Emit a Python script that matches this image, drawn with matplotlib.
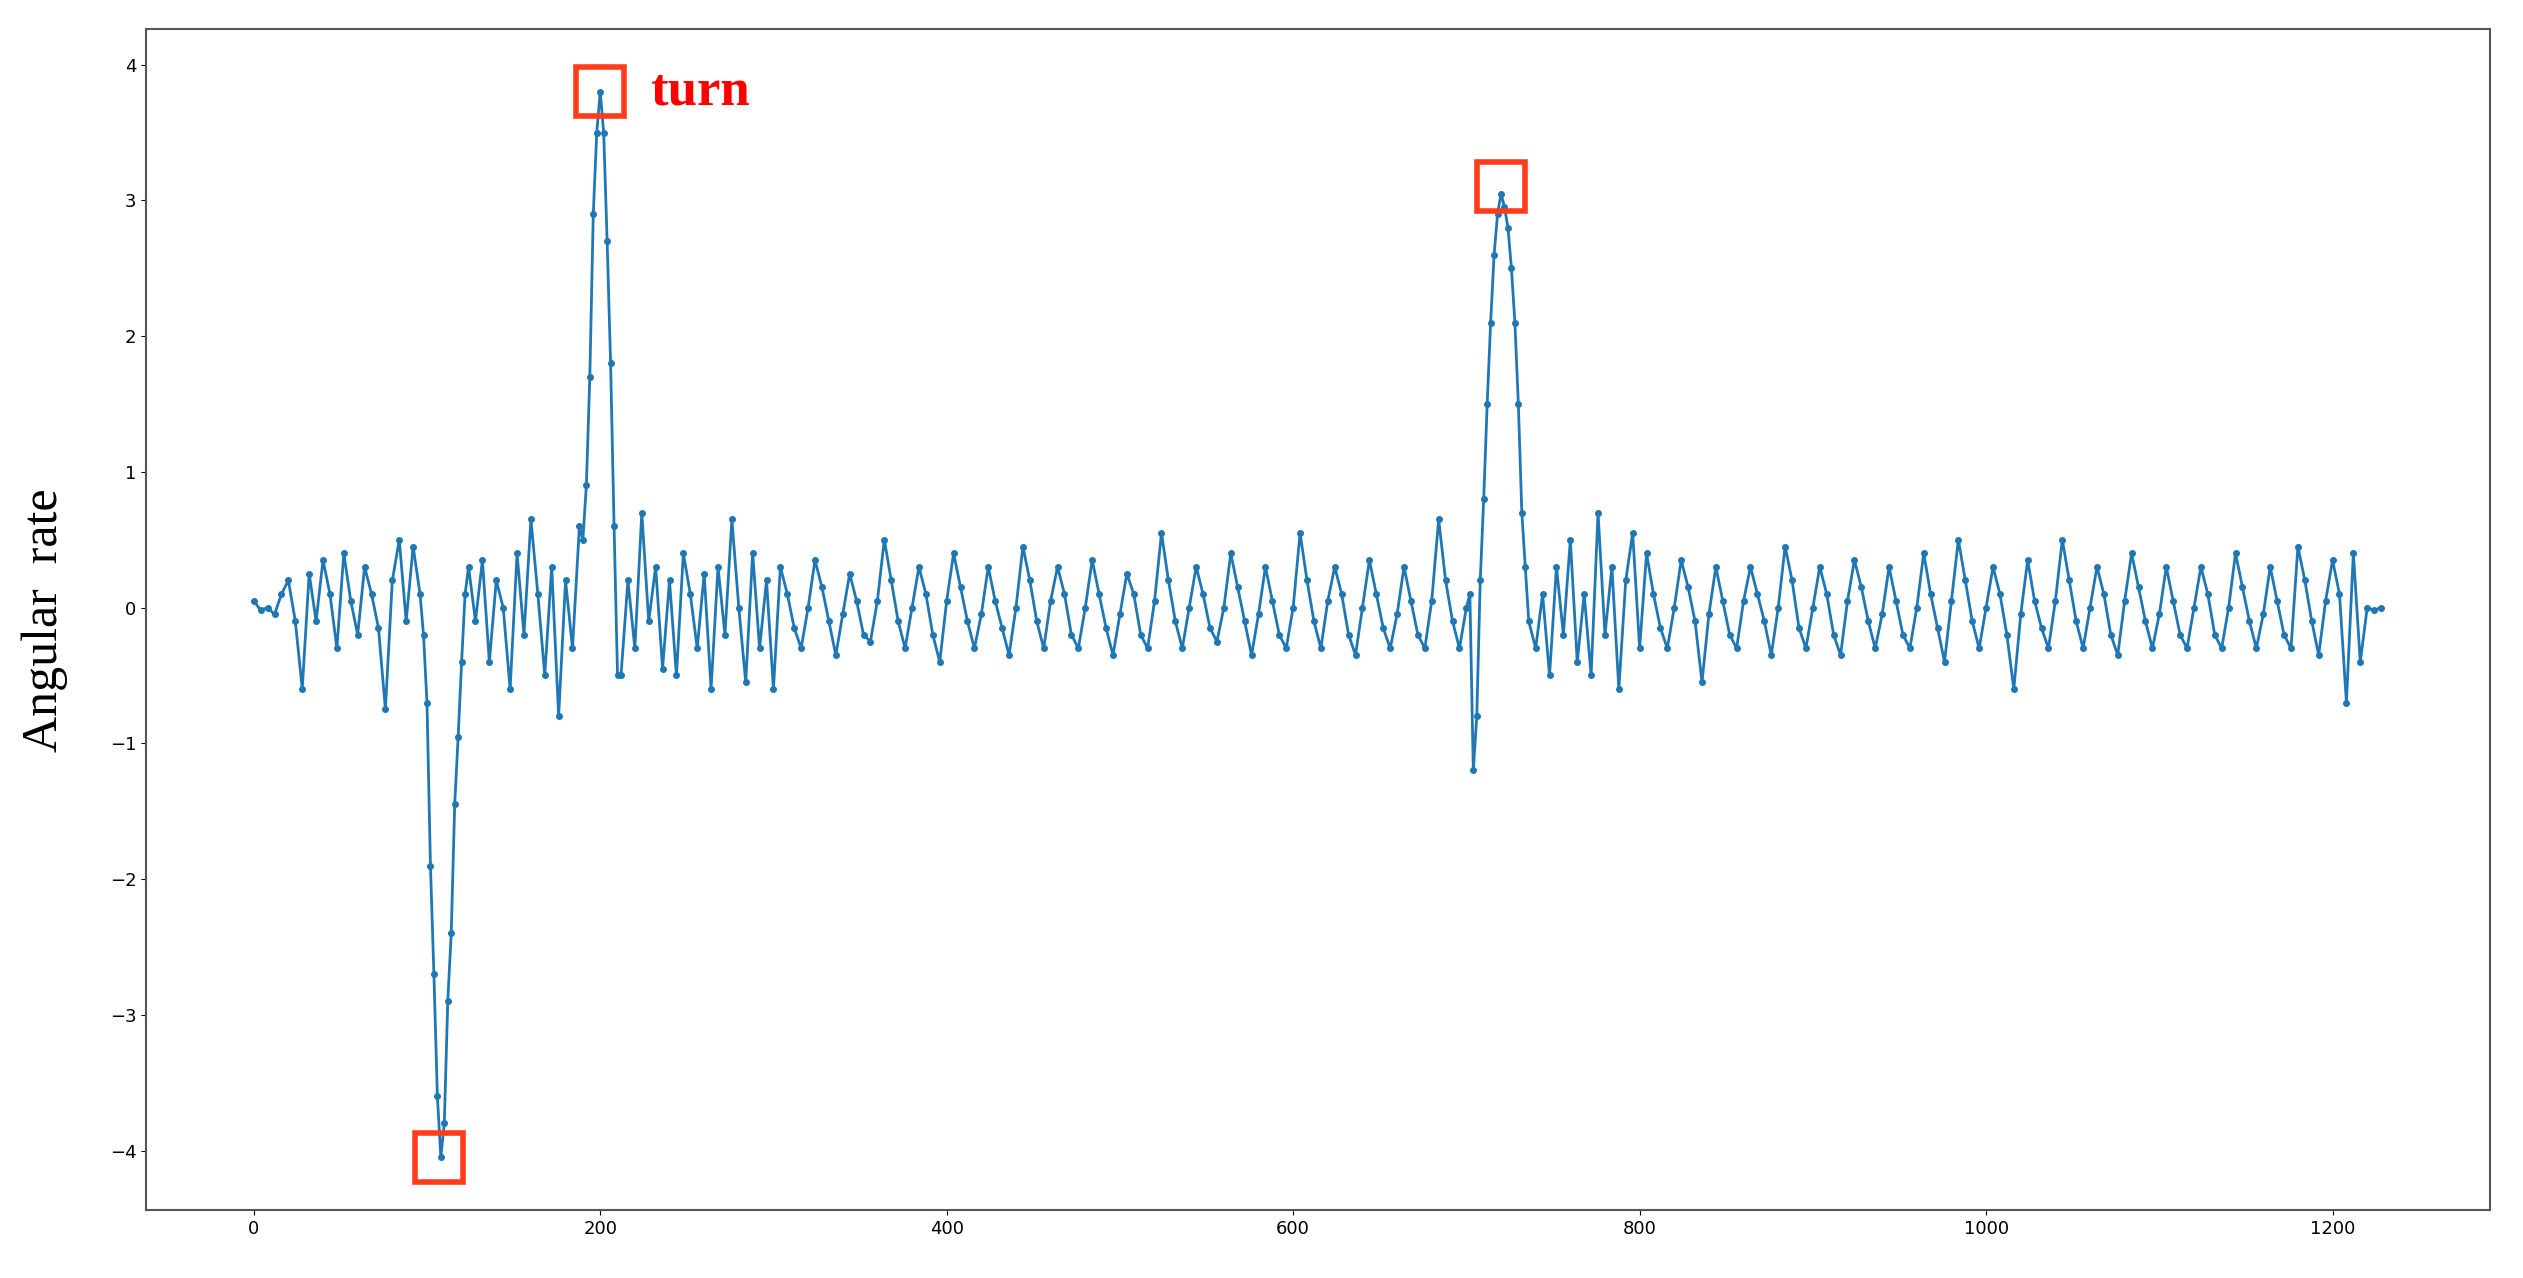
import numpy as np
import matplotlib
matplotlib.use("Agg")
import matplotlib.pyplot as plt
from matplotlib.patches import Rectangle

x_seg1 = list(range(0, 97, 4))
y_seg1 = [0.05,-0.02,0.0,-0.05,0.1,0.2,-0.1,-0.6,0.25,-0.1,0.35,0.1,-0.3,0.4,0.05,-0.2,0.3,0.1,-0.15,-0.75,0.2,0.5,-0.1,0.45,0.1]
x_seg2 = list(range(98, 123, 2))
y_seg2 = [-0.2,-0.7,-1.9,-2.7,-3.6,-4.05,-3.8,-2.9,-2.4,-1.45,-0.95,-0.4,0.1]
x_seg3 = list(range(124, 189, 4))
y_seg3 = [0.3,-0.1,0.35,-0.4,0.2,0.0,-0.6,0.4,-0.2,0.65,0.1,-0.5,0.3,-0.8,0.2,-0.3,0.6]
x_seg4 = list(range(190, 211, 2))
y_seg4 = [0.5,0.9,1.7,2.9,3.5,3.8,3.5,2.7,1.8,0.6,-0.5]
x_seg5 = list(range(212, 701, 4))
y_seg5 = [-0.5,0.2,-0.3,0.7,-0.1,0.3,-0.45,0.2,-0.5,0.4,0.1,-0.3,0.25,-0.6,0.3,-0.2,0.65,0.0,-0.55,0.4,-0.3,0.2,-0.6,
          0.3,0.1,-0.15,-0.3,0.0, 0.35,0.15,-0.1,-0.35,-0.05, 0.25,0.05,-0.2,-0.25,0.05, 0.5,0.2,-0.1,-0.3,0.0,
          0.3,0.1,-0.2,-0.4,0.05, 0.4,0.15,-0.1,-0.3,-0.05, 0.3,0.05,-0.15,-0.35,0.0, 0.45,0.2,-0.1,-0.3,0.05,
          0.3,0.1,-0.2,-0.3,0.0, 0.35,0.1,-0.15,-0.35,-0.05, 0.25,0.1,-0.2,-0.3,0.05, 0.55,0.2,-0.1,-0.3,0.0,
          0.3,0.1,-0.15,-0.25,0.0, 0.4,0.15,-0.1,-0.35,-0.05, 0.3,0.05,-0.2,-0.3,0.0, 0.55,0.2,-0.1,-0.3,0.05,
          0.3,0.1,-0.2,-0.35,0.0, 0.35,0.1,-0.15,-0.3,-0.05, 0.3,0.05,-0.2,-0.3,0.05, 0.65,0.2,-0.1,-0.3,0.0]
x_seg6 = list(range(702, 737, 2))
y_seg6 = [0.1,-1.2,-0.8,0.2,0.8,1.5,2.1,2.6,2.9,3.05,2.95,2.8,2.5,2.1,1.5,0.7,0.3,-0.1]
x_seg7 = list(range(740, 1229, 4))
y_seg7 = [-0.3,0.1,-0.5,0.3,-0.2,0.5,-0.4,0.1,-0.5,0.7,-0.2,0.3,-0.6,0.2,0.55,-0.3,
          0.4,0.1,-0.15,-0.3,0.0, 0.35,0.15,-0.1,-0.55,-0.05, 0.3,0.05,-0.2,-0.3,0.05, 0.3,0.1,-0.1,-0.35,0.0,
          0.45,0.2,-0.15,-0.3,0.0, 0.3,0.1,-0.2,-0.35,0.05, 0.35,0.15,-0.1,-0.3,-0.05, 0.3,0.05,-0.2,-0.3,0.0,
          0.4,0.1,-0.15,-0.4,0.05, 0.5,0.2,-0.1,-0.3,0.0, 0.3,0.1,-0.2,-0.6,-0.05, 0.35,0.05,-0.15,-0.3,0.05,
          0.5,0.2,-0.1,-0.3,0.0, 0.3,0.1,-0.2,-0.35,0.05, 0.4,0.15,-0.1,-0.3,-0.05, 0.3,0.05,-0.2,-0.3,0.0,
          0.3,0.1,-0.2,-0.3,0.0, 0.4,0.15,-0.1,-0.3,-0.05, 0.3,0.05,-0.2,-0.3,
          0.45,0.2,-0.1,-0.35,0.05, 0.35,0.1,-0.7,0.4,-0.4, 0.0,-0.02,0.0]

x_vals, y_vals = [], []
for xs, ys in [(x_seg1, y_seg1), (x_seg2, y_seg2), (x_seg3, y_seg3), (x_seg4, y_seg4),
               (x_seg5, y_seg5), (x_seg6, y_seg6), (x_seg7, y_seg7)]:
    k = min(len(xs), len(ys))
    x_vals += xs[:k]
    y_vals += ys[:k]

box_centers_x = [200, 720, 107]
box_centers_y = [3.8, 3.1, -4.05]

fig = plt.figure(figsize=(25.23, 12.78), dpi=100)
ax = fig.add_axes([0.058, 0.053, 0.929, 0.924])
ax.plot(x_vals, y_vals, color="#1f77b4", marker="o", markersize=4, linewidth=2)
ax.set_xlim(-62, 1291)
ax.set_ylim(-4.44, 4.26)
ax.set_xticks([0, 200, 400, 600, 800, 1000, 1200])
ax.set_yticks([-4, -3, -2, -1, 0, 1, 2, 3, 4])
ax.tick_params(labelsize=13)
for s in ax.spines.values():
    s.set_color("#555555")
    s.set_linewidth(1.5)

for cx, cy in zip(box_centers_x, box_centers_y):
    ax.add_patch(Rectangle((cx - 14, cy - 0.18), 28, 0.36, fill=False,
                           edgecolor="#ff3b1a", linewidth=4, zorder=5))
ax.text(229, 3.8, "turn", color="red", fontsize=38, fontweight="bold",
        family="Liberation Serif", va="center", ha="left")
ax.set_ylabel("Angular  rate", fontsize=36, family="Liberation Serif", labelpad=30)

fig.savefig("out.png", dpi=100)
